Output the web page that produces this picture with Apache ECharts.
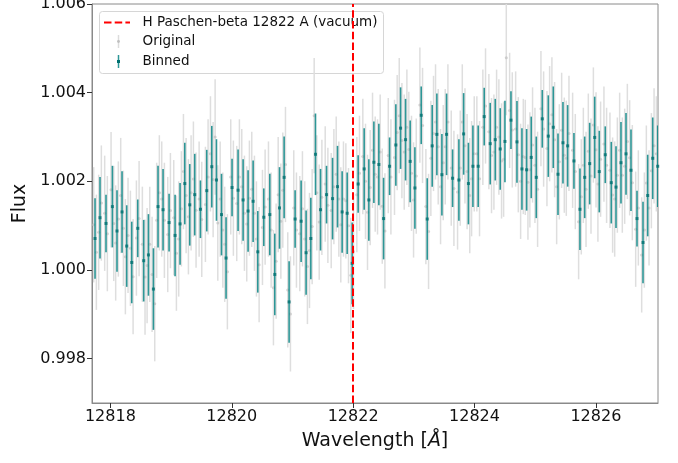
<!DOCTYPE html>
<html>
<head>
<meta charset="utf-8">
<script src="https://cdn.jsdelivr.net/npm/echarts@6/dist/echarts.min.js"></script>
<style>html,body{margin:0;padding:0;background:#fff}#c{width:678px;height:463px}</style>
</head>
<body>
<div id="c"></div>
<script>
// ---- Data ----
const restWavelength = 12822;
const xTicks = [12818, 12820, 12822, 12824, 12826];
const yTicks = [0.998, 1.000, 1.002, 1.004, 1.006];

const binWave = [12817.747,12817.829,12817.928,12818.033,12818.109,12818.192,12818.269,12818.352,12818.451,12818.549,
12818.627,12818.709,12818.785,12818.868,12818.967,12819.066,12819.148,12819.226,12819.308,12819.390,
12819.484,12819.588,12819.671,12819.748,12819.831,12819.906,12820.005,12820.104,12820.187,12820.269,
12820.352,12820.429,12820.528,12820.627,12820.709,12820.787,12820.863,12820.945,12821.044,12821.143,
12821.225,12821.303,12821.380,12821.463,12821.562,12821.661,12821.743,12821.819,12821.902,12821.984,
12822.083,12822.182,12822.259,12822.342,12822.424,12822.502,12822.601,12822.704,12822.782,12822.864,
12822.940,12823.018,12823.122,12823.221,12823.303,12823.380,12823.463,12823.540,12823.639,12823.743,
12823.821,12823.900,12823.974,12824.061,12824.160,12824.259,12824.342,12824.424,12824.502,12824.601,
12824.700,12824.782,12824.859,12824.935,12825.018,12825.117,12825.216,12825.298,12825.376,12825.458,
12825.535,12825.639,12825.738,12825.816,12825.898,12825.981,12826.056,12826.155,12826.254,12826.332,
12826.414,12826.497,12826.579,12826.678,12826.777,12826.854,12826.937,12827.019];

const binFlux = [1.00071,1.00118,1.00105,1.00143,1.00088,1.00131,1.00054,1.00017,1.00094,1.00021,
1.00034,0.99957,1.00143,1.00136,1.00107,1.00078,1.00104,1.00195,1.00147,1.00170,
1.00137,1.00179,1.00233,1.00203,1.00125,1.00027,1.00186,1.00180,1.00158,1.00133,
1.00155,1.00041,1.00119,1.00125,0.99990,1.00140,1.00209,0.99928,1.00115,1.00110,
1.00039,1.00071,1.00261,1.00136,1.00170,1.00161,1.00188,1.00131,1.00128,1.00015,
1.00194,1.00228,1.00158,1.00243,1.00238,1.00116,1.00234,1.00282,1.00320,1.00294,
1.00245,1.00185,1.00349,1.00115,1.00280,1.00306,1.00215,1.00306,1.00207,1.00203,
1.00307,1.00195,1.00234,1.00234,1.00346,1.00285,1.00294,1.00273,1.00290,1.00338,
1.00289,1.00228,1.00226,1.00254,1.00209,1.00341,1.00302,1.00322,1.00216,1.00287,
1.00280,1.00246,1.00137,1.00209,1.00240,1.00299,1.00222,1.00260,1.00197,1.00187,
1.00242,1.00262,1.00225,1.00116,1.00062,1.00168,1.00252,1.00234];

const binErr = [0.00091,0.00092,0.00065,0.00092,0.00092,0.00092,0.00092,0.00092,0.00065,0.00092,
0.00092,0.00092,0.00092,0.00092,0.00065,0.00092,0.00092,0.00092,0.00092,0.00092,
0.00065,0.00092,0.00092,0.00092,0.00092,0.00092,0.00065,0.00092,0.00092,0.00092,
0.00092,0.00092,0.00065,0.00092,0.00092,0.00092,0.00092,0.00092,0.00065,0.00092,
0.00095,0.00092,0.00092,0.00092,0.00065,0.00092,0.00092,0.00092,0.00092,0.00092,
0.00065,0.00092,0.00092,0.00092,0.00092,0.00092,0.00065,0.00092,0.00092,0.00092,
0.00092,0.00092,0.00065,0.00092,0.00092,0.00092,0.00092,0.00092,0.00065,0.00092,
0.00092,0.00092,0.00092,0.00092,0.00065,0.00092,0.00092,0.00092,0.00092,0.00065,
0.00092,0.00092,0.00092,0.00092,0.00092,0.00065,0.00092,0.00092,0.00092,0.00092,
0.00092,0.00063,0.00092,0.00092,0.00092,0.00092,0.00092,0.00064,0.00092,0.00092,
0.00092,0.00092,0.00092,0.00063,0.00092,0.00092,0.00092,0.00092];

const origWave = [12817.725,12817.769,12817.807,12817.851,12817.906,12817.950,12818.011,12818.055,12818.087,12818.131,
12818.170,12818.214,12818.247,12818.291,12818.330,12818.374,12818.429,12818.473,12818.527,12818.571,
12818.605,12818.649,12818.687,12818.731,12818.763,12818.807,12818.846,12818.890,12818.945,12818.989,
12819.044,12819.088,12819.126,12819.170,12819.204,12819.248,12819.286,12819.330,12819.368,12819.412,
12819.462,12819.506,12819.566,12819.610,12819.649,12819.693,12819.726,12819.770,12819.809,12819.853,
12819.884,12819.928,12819.983,12820.027,12820.082,12820.126,12820.165,12820.209,12820.247,12820.291,
12820.330,12820.374,12820.407,12820.451,12820.506,12820.550,12820.605,12820.649,12820.687,12820.731,
12820.765,12820.809,12820.841,12820.885,12820.923,12820.967,12821.022,12821.066,12821.121,12821.165,
12821.203,12821.247,12821.281,12821.325,12821.358,12821.402,12821.441,12821.485,12821.540,12821.584,
12821.639,12821.683,12821.721,12821.765,12821.797,12821.841,12821.880,12821.924,12821.962,12822.006,
12822.061,12822.105,12822.160,12822.204,12822.237,12822.281,12822.320,12822.364,12822.402,12822.446,
12822.480,12822.524,12822.579,12822.623,12822.682,12822.726,12822.760,12822.804,12822.842,12822.886,
12822.918,12822.962,12822.996,12823.040,12823.100,12823.144,12823.199,12823.243,12823.281,12823.325,
12823.358,12823.402,12823.441,12823.485,12823.518,12823.562,12823.617,12823.661,12823.721,12823.765,
12823.799,12823.843,12823.878,12823.922,12823.952,12823.996,12824.039,12824.083,12824.138,12824.182,
12824.237,12824.281,12824.320,12824.364,12824.402,12824.446,12824.480,12824.524,12824.579,12824.623,
12824.678,12824.722,12824.760,12824.804,12824.837,12824.881,12824.913,12824.957,12824.996,12825.040,
12825.095,12825.139,12825.194,12825.238,12825.276,12825.320,12825.354,12825.398,12825.436,12825.480,
12825.513,12825.557,12825.617,12825.661,12825.716,12825.760,12825.794,12825.838,12825.876,12825.920,
12825.959,12826.003,12826.034,12826.078,12826.133,12826.177,12826.232,12826.276,12826.310,12826.354,
12826.392,12826.436,12826.475,12826.519,12826.557,12826.601,12826.656,12826.700,12826.755,12826.799,
12826.832,12826.876,12826.915,12826.959,12826.997];

const origFlux = [1.00102,1.00040,1.00085,1.00151,1.00128,1.00082,1.00181,1.00105,1.00061,1.00115,
1.00168,1.00094,1.00030,1.00078,1.00049,0.99985,1.00072,1.00116,1.00058,0.99984,
1.00010,1.00058,0.99990,0.99924,1.00112,1.00174,1.00160,1.00112,1.00080,1.00134,
1.00118,1.00038,1.00070,1.00138,1.00222,1.00168,1.00120,1.00174,1.00205,1.00135,
1.00160,1.00114,1.00148,1.00210,1.00262,1.00204,1.00300,1.00106,1.00160,1.00090,
1.00058,0.99996,1.00210,1.00162,1.00150,1.00210,1.00188,1.00128,1.00104,1.00162,
1.00182,1.00128,1.00070,1.00012,1.00096,1.00142,1.00160,1.00090,0.99960,1.00020,
1.00170,1.00110,1.00180,1.00238,0.99955,0.99901,1.00140,1.00090,1.00082,1.00138,
1.00070,1.00008,1.00044,1.00098,1.00348,1.00174,1.00108,1.00164,1.00194,1.00146,
1.00134,1.00188,1.00216,1.00160,1.00102,1.00160,1.00156,1.00100,0.99988,1.00042,
1.00170,1.00218,1.00256,1.00200,1.00130,1.00186,1.00270,1.00216,1.00210,1.00266,
1.00144,1.00088,1.00258,1.00210,1.00254,1.00310,1.00348,1.00292,1.00266,1.00322,
1.00272,1.00218,1.00158,1.00212,1.00372,1.00326,1.00143,1.00087,1.00252,1.00308,
1.00334,1.00278,1.00188,1.00242,1.00278,1.00334,1.00230,1.00184,1.00176,1.00230,
1.00334,1.00280,1.00222,1.00168,1.00206,1.00262,1.00262,1.00206,1.00322,1.00370,
1.00312,1.00258,1.00266,1.00322,1.00300,1.00246,1.00250,1.00479,1.00360,1.00316,
1.00318,1.00260,1.00200,1.00256,1.00254,1.00198,1.00226,1.00282,1.00236,1.00182,
1.00364,1.00318,1.00274,1.00330,1.00350,1.00294,1.00188,1.00244,1.00315,1.00259,
1.00252,1.00308,1.00270,1.00222,1.00109,1.00165,1.00236,1.00182,1.00268,1.00212,
1.00327,1.00271,1.00194,1.00250,1.00284,1.00236,1.00225,1.00169,1.00160,1.00214,
1.00270,1.00214,1.00234,1.00290,1.00253,1.00197,1.00092,1.00140,1.00034,1.00090,
1.00196,1.00140,1.00224,1.00280,1.00262];

const origErrValue = 0.0013;

// ---- Chart ----
const FONT = 'DejaVu Sans';
const TEAL = '#008080';

function errBar(color, width, opacity) {
  return function (params, api) {
    const x = api.value(0), y = api.value(1), e = api.value(2);
    const p1 = api.coord([x, y - e]);
    const p2 = api.coord([x, y + e]);
    return {
      type: 'line',
      shape: { x1: p1[0], y1: p1[1], x2: p2[0], y2: p2[1] },
      style: { stroke: color, lineWidth: width, opacity: opacity }
    };
  };
}

const origData = origWave.map((w, i) => [w, origFlux[i], origErrValue]);
const binData = binWave.map((w, i) => [w, binFlux[i], binErr[i]]);

const chart = echarts.init(document.getElementById('c'), null, { renderer: 'canvas' });
chart.setOption({
  animation: false,
  backgroundColor: '#fff',
  textStyle: { fontFamily: FONT },
  grid: { left: 92, right: 20, top: 4, bottom: 60, outerBoundsMode: 'none', containLabel: false, show: true, borderColor: '#8a8a8a', borderWidth: 1, backgroundColor: 'transparent' },
  xAxis: {
    type: 'value', min: 12817.697, max: 12827.024,
    name: 'Wavelength [{i|Å}]', nameLocation: 'middle', nameGap: 29,
    nameTextStyle: { fontSize: 19, color: '#111', fontFamily: FONT, rich: { i: { fontSize: 19, fontStyle: 'italic', fontFamily: FONT, color: '#111' } } },
    axisLine: { show: true, onZero: false, lineStyle: { color: '#8a8a8a', width: 1 } },
    axisTick: { show: true, length: 5, lineStyle: { color: '#333', width: 1 }, customValues: xTicks },
    axisLabel: { fontSize: 16, color: '#111', margin: 6, fontFamily: FONT, customValues: xTicks, formatter: v => v.toFixed(0) },
    splitLine: { show: false }
  },
  yAxis: {
    type: 'value', min: 0.997, max: 1.006,
    name: 'Flux', nameLocation: 'middle', nameGap: 50, nameRotate: 90,
    nameTextStyle: { fontSize: 19, color: '#111', fontFamily: FONT },
    axisLine: { show: true, onZero: false, lineStyle: { color: '#8a8a8a', width: 1 } },
    axisTick: { show: true, length: 5, lineStyle: { color: '#333', width: 1 }, customValues: yTicks },
    axisLabel: { fontSize: 16, color: '#111', margin: 6, fontFamily: FONT, customValues: yTicks, formatter: v => v.toFixed(3) },
    splitLine: { show: false }
  },
  series: [
    { name: 'Original', type: 'custom', renderItem: errBar('#dedede', 1.5, 1), data: origData, encode: { x: 0, y: 1 }, clip: true, z: 1, silent: true },
    { name: 'Original pts', type: 'scatter', data: origData, symbol: 'circle', symbolSize: 3, itemStyle: { color: '#c4c4c4' }, clip: true, z: 2, silent: true },
    { name: 'Binned', type: 'custom', renderItem: errBar(TEAL, 1.6, 0.82), data: binData, encode: { x: 0, y: 1 }, clip: true, z: 3, silent: true },
    { name: 'Binned pts', type: 'scatter', data: binData, symbol: 'rect', symbolSize: 3, itemStyle: { color: '#007070' }, clip: true, z: 4, silent: true,
      markLine: {
        silent: true, symbol: ['none', 'none'], label: { show: false }, z: 5,
        lineStyle: { color: '#ff0000', width: 2, type: [7.5, 3.2] },
        data: [{ xAxis: restWavelength }]
      }
    }
  ],
  graphic: [{
    type: 'group', z: 100,
    children: [
      { type: 'rect', shape: { x: 99.5, y: 11.5, width: 284, height: 62, r: 3 }, style: { fill: 'rgba(255,255,255,0.8)', stroke: '#d6d6d6', lineWidth: 1 } },
      { type: 'line', shape: { x1: 104, y1: 22.5, x2: 130, y2: 22.5 }, style: { stroke: '#ff0000', lineWidth: 2, lineDash: [7.5, 3.2] } },
      { type: 'text', x: 142.5, y: 22.5, style: { text: 'H Paschen-beta 12822 A (vacuum)', fontSize: 13.5, fontFamily: FONT, fill: '#111', verticalAlign: 'middle' } },
      { type: 'line', shape: { x1: 118.5, y1: 35, x2: 118.5, y2: 48 }, style: { stroke: '#dcdcdc', lineWidth: 1.5 } },
      { type: 'circle', shape: { cx: 118.5, cy: 41.5, r: 1.4 }, style: { fill: '#c0c0c0' } },
      { type: 'text', x: 142.5, y: 41.7, style: { text: 'Original', fontSize: 13.5, fontFamily: FONT, fill: '#111', verticalAlign: 'middle' } },
      { type: 'line', shape: { x1: 118.5, y1: 55, x2: 118.5, y2: 68 }, style: { stroke: TEAL, lineWidth: 1.5, opacity: 0.82 } },
      { type: 'rect', shape: { x: 117, y: 60, width: 3, height: 3 }, style: { fill: '#007070' } },
      { type: 'text', x: 142.5, y: 61.7, style: { text: 'Binned', fontSize: 13.5, fontFamily: FONT, fill: '#111', verticalAlign: 'middle' } }
    ]
  }]
});
</script>
</body>
</html>
